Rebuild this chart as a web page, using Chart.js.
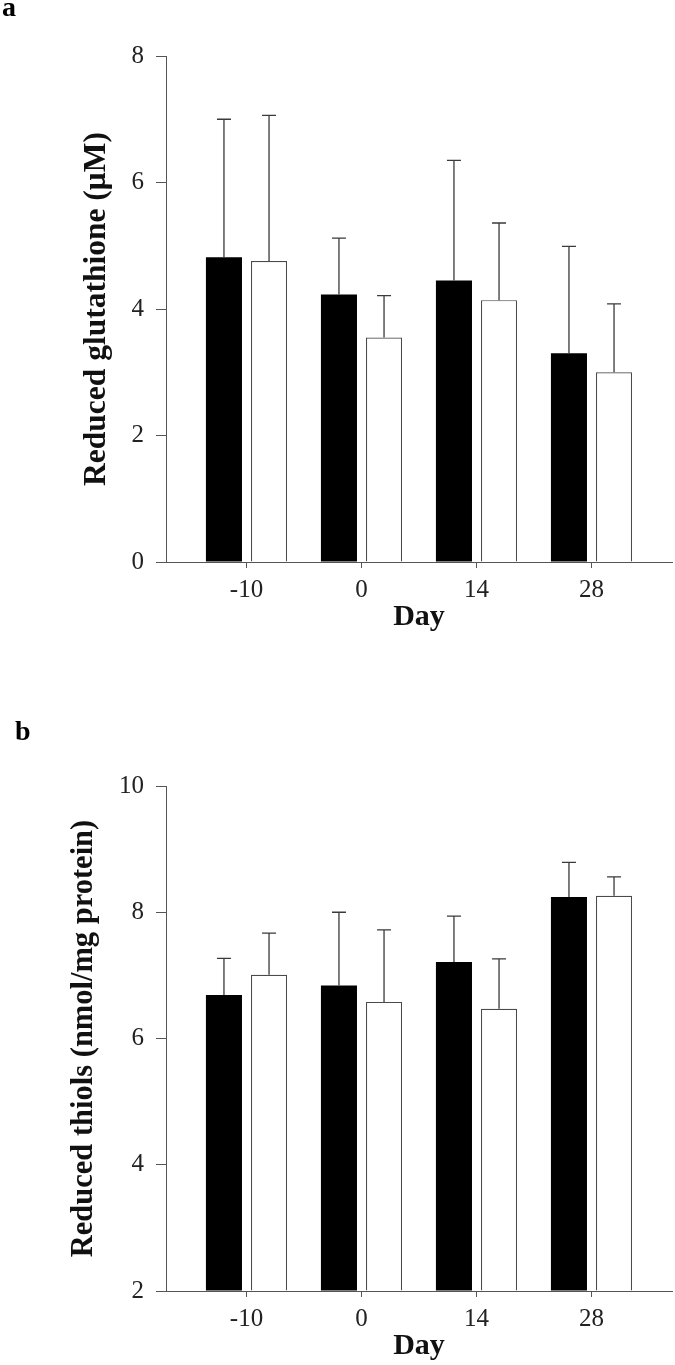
<!DOCTYPE html>
<html>
<head>
<meta charset="utf-8">
<script src="https://cdn.jsdelivr.net/npm/chart.js@4.4.1/dist/chart.umd.min.js"></script>
<style>
  body { margin: 0; background: #fff; }
  #wrap { position: relative; width: 675px; height: 1365px; }
  canvas { position: absolute; left: 0; }
  .panel { position: absolute; font: bold 28px 'Liberation Serif', 'Times New Roman', serif; line-height: 28px; color: #000; }
</style>
</head>
<body>
<div id="wrap">
  <canvas id="chartA" width="675" height="680" style="top:0"></canvas>
  <canvas id="chartB" width="675" height="685" style="top:680px"></canvas>
  <div class="panel" style="left:2px; top:-7px">a</div>
  <div class="panel" style="left:15px; top:717px">b</div>
</div>
<script>
// data (mean and SD per day)
const days = ['-10', '0', '14', '28'];

const gshGroup1 = [4.82, 4.23, 4.45, 3.30];
const gshGroup1Sd = [2.18, 0.89, 1.90, 1.69];
const gshGroup2 = [4.76, 3.55, 4.14, 3.00];
const gshGroup2Sd = [2.30, 0.66, 1.22, 1.08];
const gshTicks = [0, 2, 4, 6, 8];

const thiolGroup1 = [6.69, 6.84, 7.21, 8.24];
const thiolGroup1Sd = [0.58, 1.16, 0.73, 0.55];
const thiolGroup2 = [7.01, 6.58, 6.47, 8.26];
const thiolGroup2Sd = [0.66, 1.14, 0.79, 0.30];
const thiolTicks = [2, 4, 6, 8, 10];

Chart.defaults.font.family = "'Liberation Serif', 'Times New Roman', serif";
Chart.defaults.color = '#222';

const axisColor = '#555';

// draws the upper SD whiskers on top of each bar
const errorBars = {
  id: 'errorBars',
  afterDatasetsDraw(chart) {
    const ctx = chart.ctx;
    const yScale = chart.scales.y;
    ctx.save();
    ctx.strokeStyle = '#3a3a3a';
    ctx.lineWidth = 1.3;
    chart.data.datasets.forEach((ds, i) => {
      chart.getDatasetMeta(i).data.forEach((bar, j) => {
        const top = yScale.getPixelForValue(ds.data[j].y + ds.errors[j]);
        ctx.beginPath();
        ctx.moveTo(bar.x, bar.y);
        ctx.lineTo(bar.x, top);
        ctx.moveTo(bar.x - 7, top);
        ctx.lineTo(bar.x + 7, top);
        ctx.stroke();
      });
    });
    ctx.restore();
  }
};

function toPoints(values) {
  return values.map((v, i) => ({ x: i, y: v }));
}

function makeChart(id, yTitle, titleSize, g1, g1Sd, g2, g2Sd, ticks, pad) {
  const yMin = ticks[0];
  const yMax = ticks[ticks.length - 1];
  return new Chart(document.getElementById(id), {
    type: 'bar',
    data: {
      datasets: [
        {
          data: toPoints(g1),
          errors: g1Sd,
          base: yMin,
          backgroundColor: '#000',
          borderColor: '#000',
          borderWidth: 0,
          categoryPercentage: 0.784,
          barPercentage: 0.8,
        },
        {
          data: toPoints(g2),
          errors: g2Sd,
          base: yMin,
          backgroundColor: '#fff',
          borderColor: '#4a4a4a',
          borderWidth: 1.2,
          categoryPercentage: 0.784,
          barPercentage: 0.8,
        },
      ],
    },
    options: {
      responsive: false,
      animation: false,
      layout: { padding: pad },
      plugins: {
        legend: { display: false },
        tooltip: { enabled: false },
      },
      scales: {
        x: {
          type: 'linear',
          offset: false,
          min: -0.7,
          max: 3.7,
          afterBuildTicks: (scale) => {
            scale.ticks = days.map((d, i) => ({ value: i }));
          },
          afterFit: (scale) => {
            scale.height = 74;
          },
          ticks: {
            callback: (value) => days[value],
            font: { size: 25 },
            color: '#222',
            padding: 7,
            maxRotation: 0,
          },
          grid: {
            offset: false,
            drawOnChartArea: false,
            drawTicks: true,
            tickLength: 6,
            color: axisColor,
          },
          border: { color: axisColor, width: 1 },
          title: {
            display: true,
            text: 'Day',
            font: { size: 30, weight: 'bold' },
            color: '#111',
            padding: { top: 0, bottom: 1 },
          },
        },
        y: {
          min: yMin,
          max: yMax,
          afterBuildTicks: (scale) => {
            scale.ticks = ticks.map((v) => ({ value: v }));
          },
          afterFit: (scale) => {
            scale.width = 166 - pad.left;
          },
          ticks: {
            font: { size: 25 },
            color: '#222',
            padding: 12,
          },
          grid: {
            drawOnChartArea: false,
            drawTicks: true,
            tickLength: 10,
            color: axisColor,
          },
          border: { color: axisColor, width: 1 },
          title: {
            display: true,
            text: yTitle,
            font: { size: titleSize, weight: 'bold' },
            color: '#111',
            padding: { top: 4, bottom: 0 },
          },
        },
      },
    },
    plugins: [errorBars],
  });
}

makeChart('chartA', 'Reduced glutathione (\u03bcM)', 31.5,
  gshGroup1, gshGroup1Sd, gshGroup2, gshGroup2Sd, gshTicks,
  { left: 74, top: 56, right: 3, bottom: 44 });

makeChart('chartB', 'Reduced thiols (nmol/mg protein)', 30.5,
  thiolGroup1, thiolGroup1Sd, thiolGroup2, thiolGroup2Sd, thiolTicks,
  { left: 62, top: 106, right: 3, bottom: 0 });
</script>
</body>
</html>
